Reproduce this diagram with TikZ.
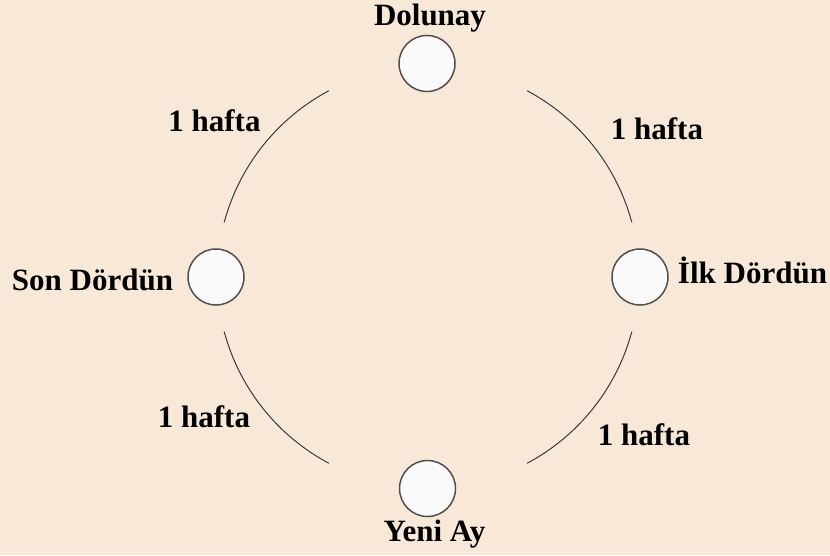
\documentclass[tikz,border=0pt]{standalone}
\usepackage{fontspec}
\usetikzlibrary{calc}
\setmainfont{Liberation Serif}
\definecolor{bg}{HTML}{F8E8D8}
\definecolor{moonfill}{HTML}{FAFAFA}
\definecolor{moonline}{HTML}{505050}
\definecolor{arcline}{HTML}{3A3A3A}
\begin{document}
\begin{tikzpicture}[x=1pt,y=1pt,
  moon/.style={circle, draw=moonline, fill=moonfill, line width=1.5pt, minimum size=56pt, inner sep=0pt},
  lbl/.style={anchor=base, inner sep=0pt, font=\bfseries\fontsize{31}{37}\selectfont},
  orbit/.style={draw=arcline, line width=1pt}]
\fill[bg] (0,0) rectangle (830,555);
\useasboundingbox (0,0) rectangle (830,555);
\coordinate (c) at (428,278);
% arcs
\draw[orbit] ($(c)+(118:211)$) arc[start angle=118, end angle=165, radius=211];
\draw[orbit] ($(c)+(15:211)$) arc[start angle=15, end angle=62, radius=211];
\draw[orbit] ($(c)+(-62:211)$) arc[start angle=-62, end angle=-15, radius=211];
\draw[orbit] ($(c)+(195:211)$) arc[start angle=195, end angle=242, radius=211];
% moons
\node[moon] (full) at (427,491.5) {};
\node[moon] (new) at (427.5,66.5) {};
\node[moon] (last) at (216,278) {};
\node[moon] (first) at (640,278) {};
% labels
\node[lbl] (tfull) at (430,529) {Dolunay};
\node[lbl] (tnew) at (434.5,14) {Yeni Ay};
\node[lbl] (tlast) at (92.5,264) {Son Dördün};
\node[lbl] (tfirst) at (752.5,271) {İlk Dördün};
\node[lbl] (w1) at (214.5,423) {1 hafta};
\node[lbl] (w2) at (657,415) {1 hafta};
\node[lbl] (w3) at (204,128) {1 hafta};
\node[lbl] (w4) at (644,110) {1 hafta};
\end{tikzpicture}
\end{document}
